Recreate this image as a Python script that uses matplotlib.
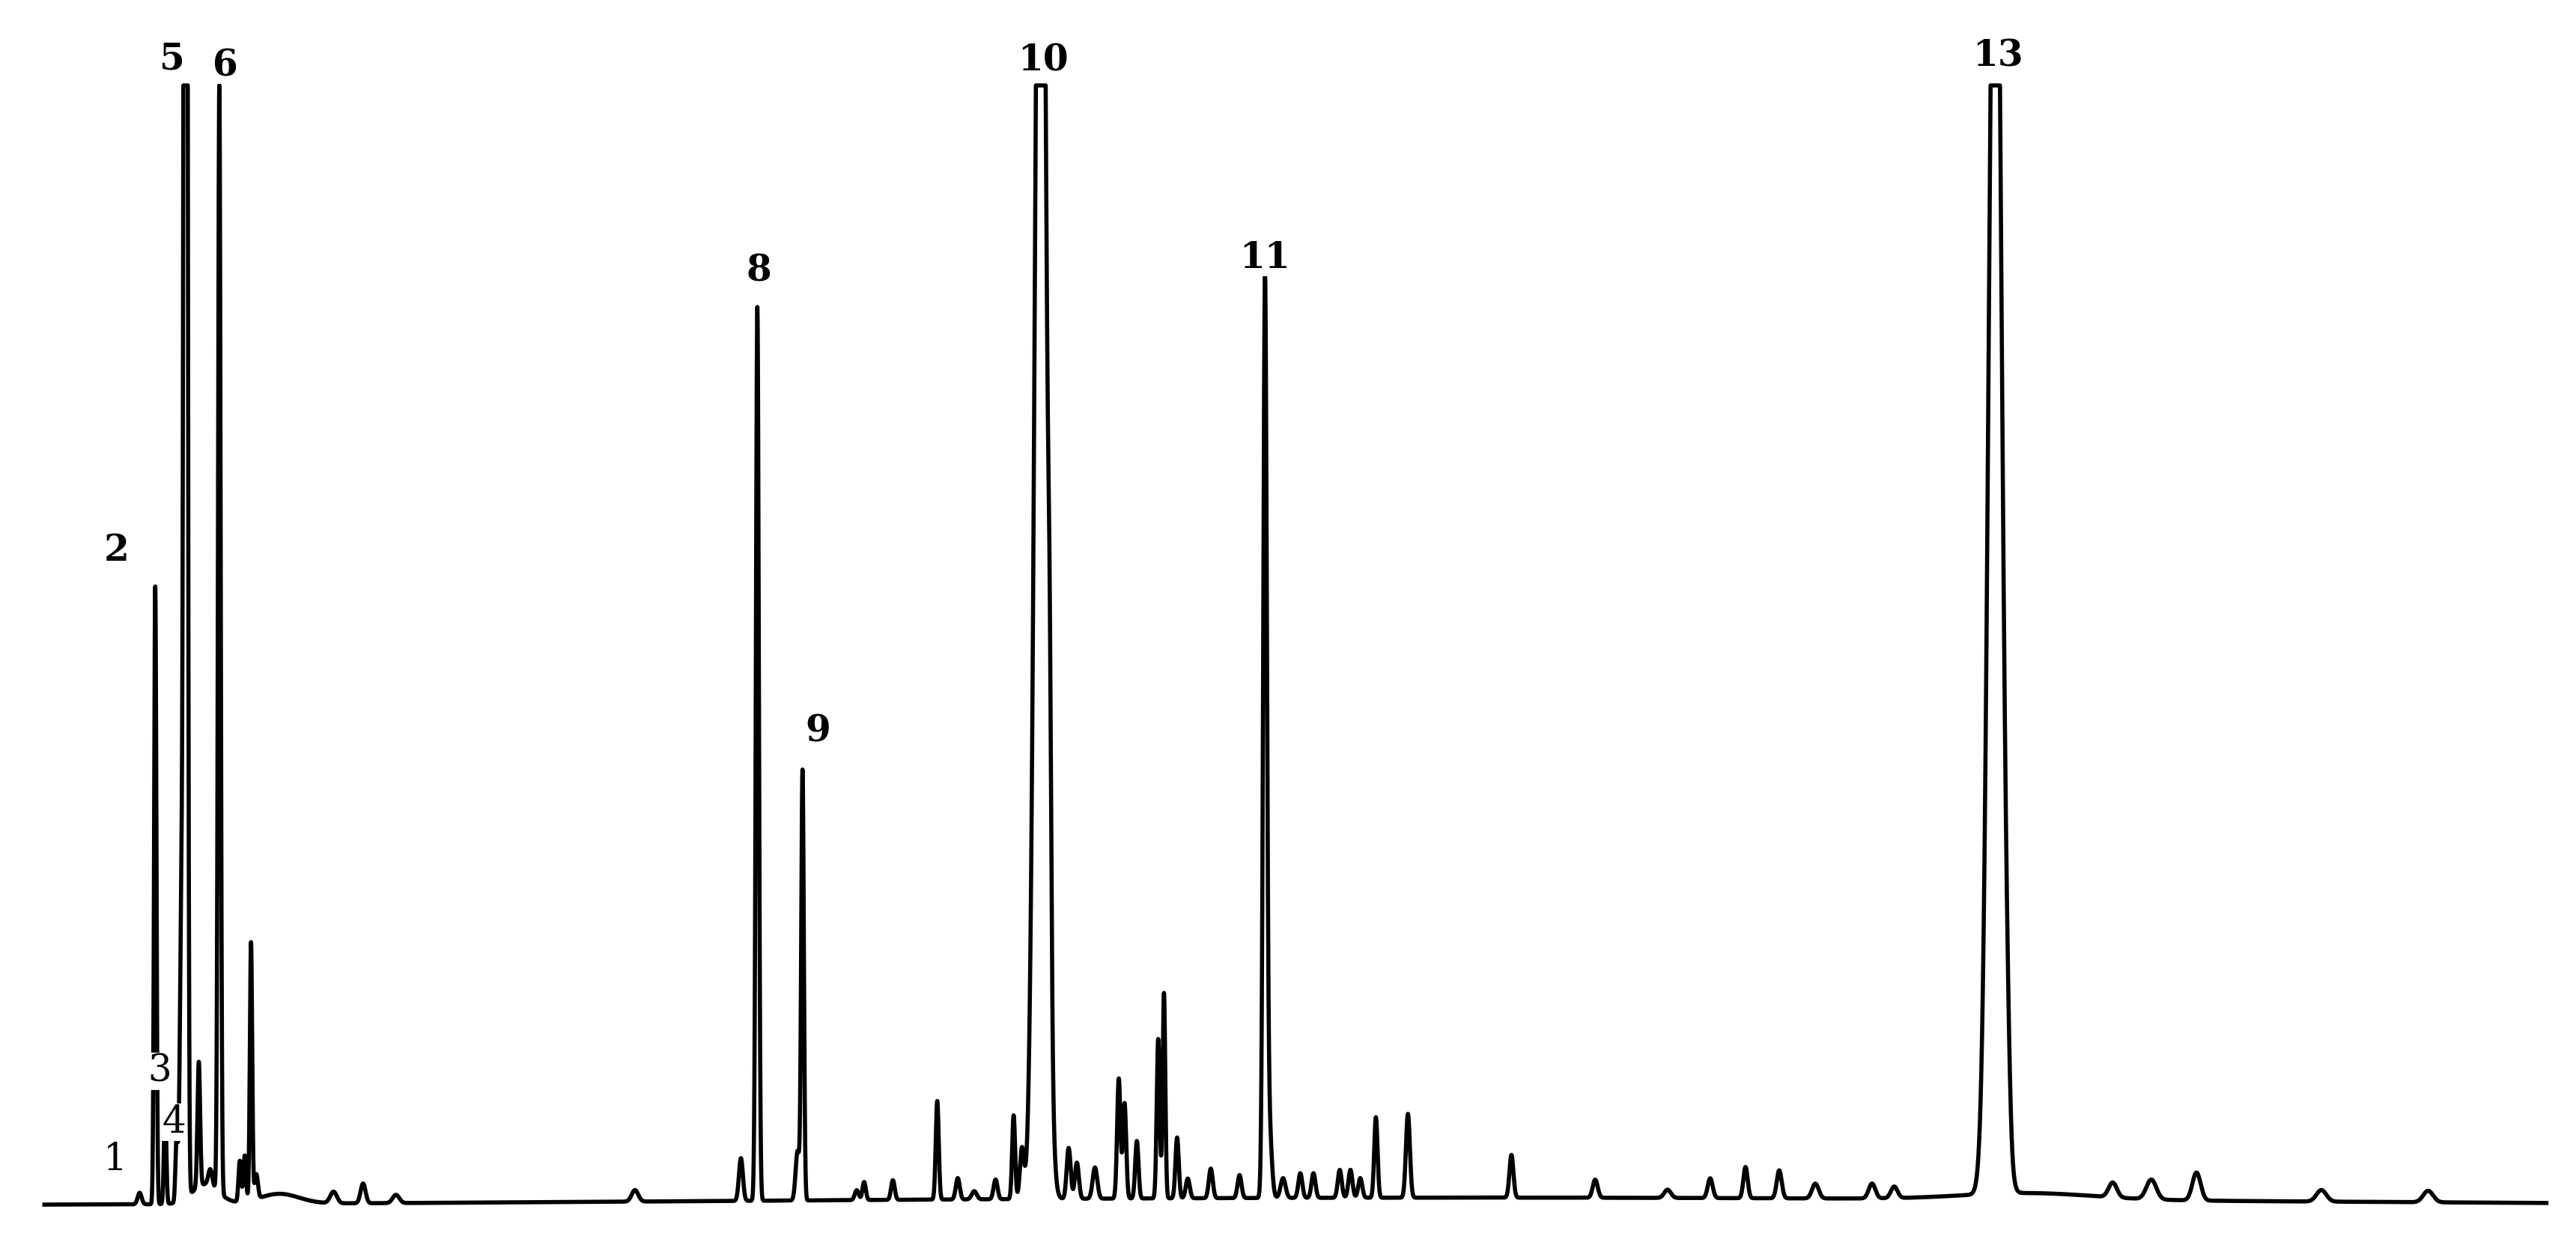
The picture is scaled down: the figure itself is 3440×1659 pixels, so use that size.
import numpy as np
import matplotlib
matplotlib.use("Agg")
import matplotlib.pyplot as plt

# peak table: retention position, height above baseline, width (sigma)
peak_rt = [
    900, 85, 94.5, 100.5, 107.5, 110.5, 113, 121, 125, 128, 133.5, 146, 149, 152.8, 156, 170,
    203, 221, 241, 386.5, 451, 461, 485.5, 488.5, 521.5, 526, 543.5, 570.5, 583, 593, 606,
    617, 622, 633.5, 639, 650.5, 655.5, 666.5, 681, 684.5, 692, 705, 708.5, 716.5, 723, 737,
    754.5, 770, 772.5, 781, 791.5, 799.5, 815.5, 822, 828, 837.5, 857, 920, 971, 1015, 1041,
    1062.5, 1083, 1105, 1139.5, 1153, 1214.5, 1222, 1235, 1286, 1309.5, 1337, 1413, 1478,
]
peak_height = [
    5, 7, 376, 60, 40, 175, 2000, 76, 12, 10, 676, 25, 28, 157, 15, 6,
    7, 12, 5, 7, 26, 544, 30, 261, 6, 11, 12, 60, 13, 5, 12,
    51, 30, 1050, 130, 31, 22, 19, 73, 58, 35, 97, 125, 37, 12, 18,
    14, 551, 44, 12, 15, 15, 17, 17, 12, 49, 51, 26, 11, 5, 12,
    19, 17, 9, 9, 7, 900, 24, 4, 9, 12, 17, 7, 7,
]
peak_sigma = [
    450, 1.2, 0.7, 0.7, 0.7, 1.0, 0.9, 0.8, 8, 1.2, 0.8, 0.8, 0.8, 0.7, 1.0, 12,
    2, 1.5, 2, 2, 1.2, 0.9, 1.2, 0.8, 1.2, 1.0, 1.1, 0.9, 1.2, 1.5, 1.2,
    0.9, 1.2, 3.2, 0.9, 1.2, 1.2, 1.4, 1.0, 1.0, 1.0, 0.9, 0.8, 1.0, 1.2, 1.2,
    1.2, 1.1, 1.5, 1.5, 1.2, 1.2, 1.2, 1.2, 1.2, 1.0, 1.2, 1.2, 1.5, 2, 1.5,
    1.3, 1.5, 2, 2, 2, 3.8, 1.5, 40, 2.5, 3, 2.5, 3, 3,
]

# detector saturates above this level (flat-topped peaks)
ceiling = 682
baseline = 734
rt_start, rt_end = 27, 1550

# peak labels: text, position, bold
label_text = ["1", "2", "3", "4", "5", "6", "8", "9", "10", "11", "13"]
label_x = [70, 71, 97, 106, 105, 137, 462, 498, 635, 770, 1216]
label_y = [706, 335, 652, 683, 36, 40, 165, 445, 37, 157, 34]
label_bold = [False, True, False, False, True, True, True, True, True, True, True]

rt = np.arange(rt_start, rt_end, 0.05)
signal = np.zeros_like(rt)
for c, h, s in zip(peak_rt, peak_height, peak_sigma):
    signal += h * np.exp(-0.5 * ((rt - c) / s) ** 2)
signal = np.minimum(signal, ceiling)

fig = plt.figure(figsize=(34.4, 16.59), dpi=100)
ax = fig.add_axes([0, 0, 1, 1])
ax.plot(rt, signal, color="black", lw=4.0, solid_joinstyle="round")
ax.set_xlim(0, 1568)
ax.set_ylim(baseline - 756, baseline)
ax.axis("off")

for t, x, y, b in zip(label_text, label_x, label_y, label_bold):
    ax.text(x, baseline - y, t, ha="center", va="center", family="DejaVu Serif",
            fontsize=35 if b else 36, fontweight="bold" if b else "normal",
            color="black", bbox=dict(facecolor="white", edgecolor="none", pad=0.5))

fig.savefig("out.png", dpi=100, facecolor="white")
